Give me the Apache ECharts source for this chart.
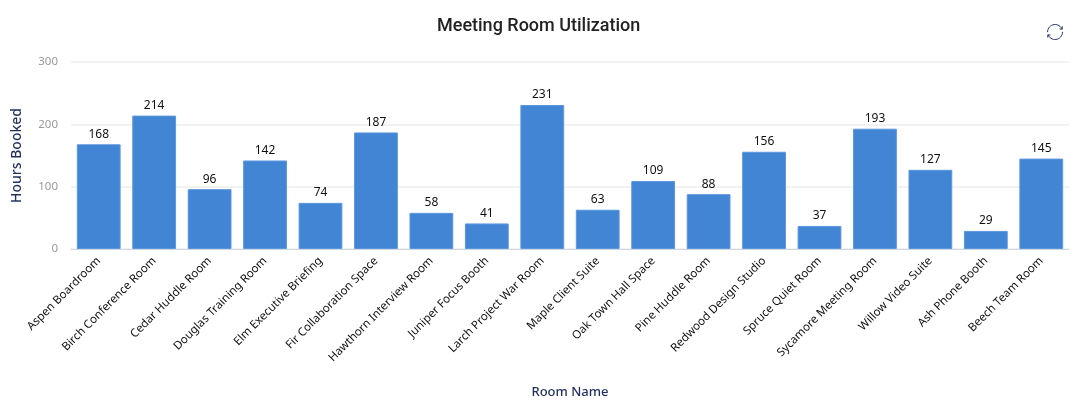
<!DOCTYPE html>
<html><head><meta charset="utf-8">
<style>html,body{margin:0;padding:0;background:#fff}#c{width:1080px;height:415px}</style>
<script src="https://cdn.jsdelivr.net/npm/echarts@6/dist/echarts.min.js"></script>
</head><body><div id="c"></div>
<script>
const categories = ["Aspen Boardroom","Birch Conference Room","Cedar Huddle Room","Douglas Training Room","Elm Executive Briefing","Fir Collaboration Space","Hawthorn Interview Room","Juniper Focus Booth","Larch Project War Room","Maple Client Suite","Oak Town Hall Space","Pine Huddle Room","Redwood Design Studio","Spruce Quiet Room","Sycamore Meeting Room","Willow Video Suite","Ash Phone Booth","Beech Team Room"];
const hoursBooked = [168,214,96,142,74,187,58,41,231,63,109,88,156,37,193,127,29,145];
const chart = echarts.init(document.getElementById('c'), null, {renderer:'canvas'});
chart.setOption({
  animation:false,
  title:{text:'Meeting Room Utilization',left:432,top:12,textStyle:{fontFamily:'Roboto',fontSize:18,fontWeight:500,color:'#222'}},
  toolbox:{right:0,top:7,itemSize:15,feature:{restore:{title:''}},iconStyle:{borderColor:'#1f3260',borderWidth:1}},
  grid:{left:71,right:11,top:62,bottom:166},
  xAxis:{type:'category',data:categories,name:'Room Name',nameLocation:'middle',nameGap:137,
    nameTextStyle:{fontFamily:'Noto Sans',fontSize:13,fontWeight:500,color:'#1f2f5f'},
    axisTick:{show:false},axisLine:{lineStyle:{color:'#d0d6e2'}},
    axisLabel:{interval:0,rotate:45,fontFamily:'Noto Sans',fontSize:11.5,color:'#111',margin:10}},
  yAxis:{type:'value',min:0,max:300,interval:100,name:'Hours Booked',nameLocation:'middle',nameGap:47,
    nameTextStyle:{fontFamily:'Noto Sans',fontSize:14,fontWeight:500,color:'#1f2f5f'},
    axisLabel:{fontFamily:'Noto Sans',fontSize:11.5,color:'#999',margin:13},
    splitLine:{lineStyle:{color:'#eeeeee',width:1.5}}},
  series:[{type:'bar',data:hoursBooked,barWidth:'79%',itemStyle:{color:'#4285d4',borderColor:'#5c97dd',borderWidth:1},
    label:{show:true,position:'top',fontFamily:'Noto Sans',fontSize:12,color:'#111',distance:4}}]
});
</script></body></html>
